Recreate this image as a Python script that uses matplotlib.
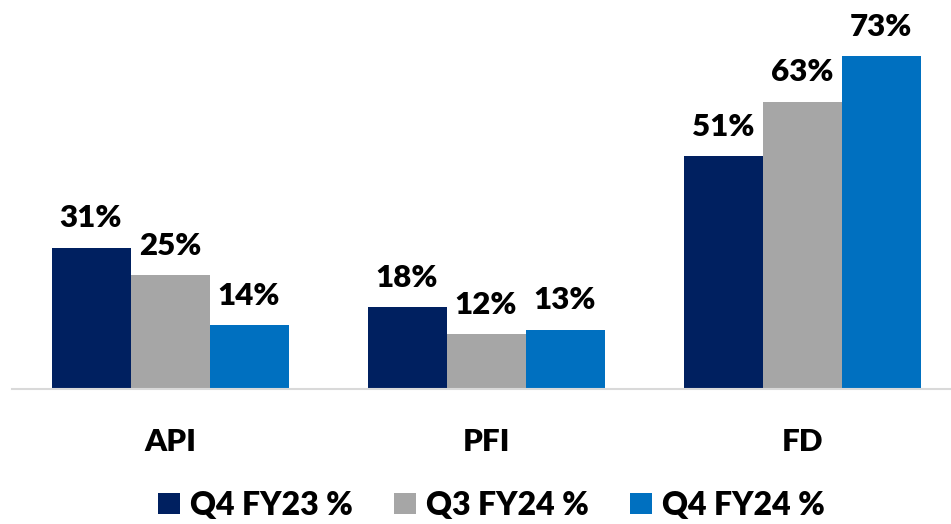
import matplotlib
matplotlib.use("Agg")
import matplotlib.pyplot as plt
import numpy as np
from matplotlib.patches import Patch

categories = ["API", "PFI", "FD"]
series_names = ["Q4 FY23 %", "Q3 FY24 %", "Q4 FY24 %"]
q4_fy23 = [31, 18, 51]
q3_fy24 = [25, 12, 63]
q4_fy24 = [14, 13, 73]
colors = ["#002060", "#A6A6A6", "#0070C0"]

plt.rcParams['font.family'] = ['Lato', 'DejaVu Sans']

WEIGHT = 'heavy'
FS = 22.5
LFS = 23

fig = plt.figure(figsize=(9.51, 5.24), dpi=100)
ax = fig.add_axes([12/951, (524-389)/524, (950-12)/951, 389/524])

x = np.arange(len(categories))
w = 0.25
for i, (vals, c) in enumerate(zip([q4_fy23, q3_fy24, q4_fy24], colors)):
    bars = ax.bar(x + (i-1)*w, vals, width=w, color=c, edgecolor='none', zorder=2)
    for b, v in zip(bars, vals):
        ax.annotate(f"{v}%", (b.get_x()+b.get_width()/2, v), xytext=(0, 11),
                    textcoords='offset points', ha='center', va='bottom',
                    fontsize=FS, fontweight=WEIGHT, color='black')

ax.set_xlim(-0.5, 2.468)
ax.set_ylim(0, 85.3)
for s in ['top', 'right', 'left']:
    ax.spines[s].set_visible(False)
ax.spines['bottom'].set_color('#D9D9D9')
ax.spines['bottom'].set_linewidth(1.5)
ax.set_yticks([])
ax.set_xticks(x)
ax.set_xticklabels(categories, fontsize=FS, fontweight=WEIGHT)
ax.tick_params(axis='x', length=0, pad=28)

handles = [Patch(facecolor=c, edgecolor='none') for c in colors]
fig.legend(handles, series_names, loc='center', bbox_to_anchor=(0.517, 0.036),
           ncol=3, frameon=False, prop={'size': LFS, 'weight': WEIGHT},
           handlelength=0.67, handleheight=0.64, handletextpad=0.32,
           columnspacing=1.3, borderpad=0)

fig.savefig("out.png", dpi=100)
